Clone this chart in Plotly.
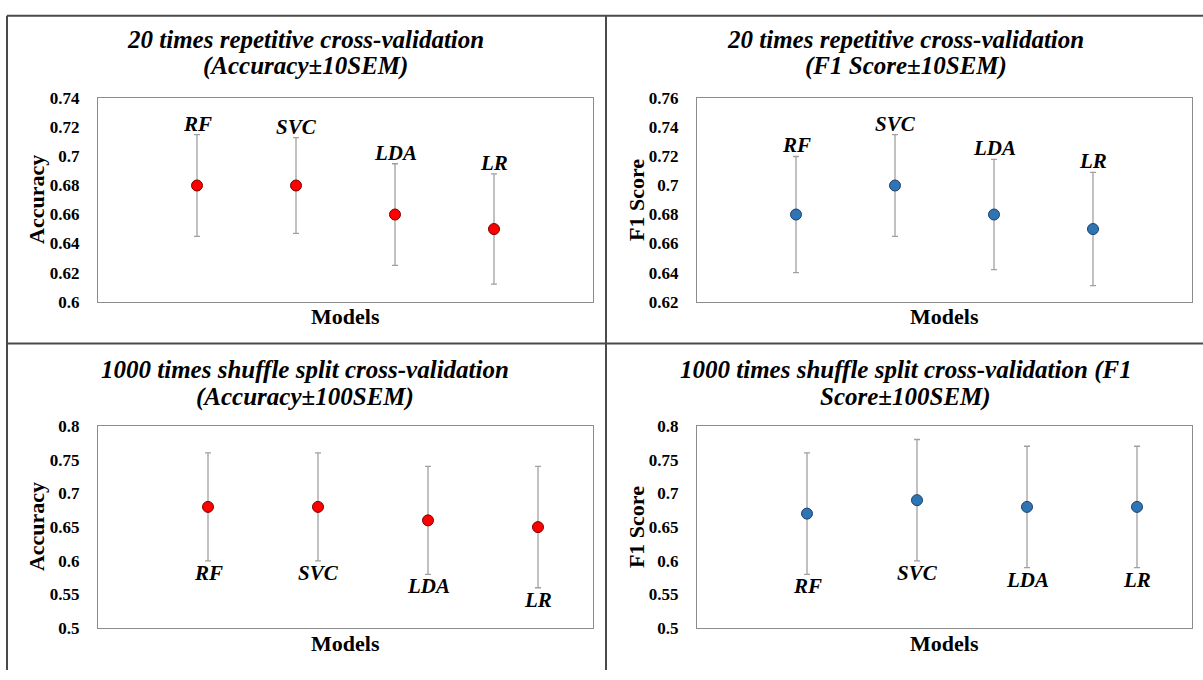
import plotly.graph_objects as go

W, H = 1203, 680
FONT = "'Liberation Serif', 'Times New Roman', Times, serif"

models = ["RF", "SVC", "LDA", "LR"]

acc_rep = [0.68, 0.68, 0.66, 0.65]
acc_rep_err = [0.035, 0.033, 0.035, 0.038]
f1_rep = [0.68, 0.70, 0.68, 0.67]
f1_rep_err = [0.040, 0.035, 0.038, 0.039]
acc_shuf = [0.68, 0.68, 0.66, 0.65]
acc_shuf_err = [0.08, 0.08, 0.08, 0.09]
f1_shuf = [0.67, 0.69, 0.68, 0.68]
f1_shuf_err = [0.09, 0.09, 0.09, 0.09]

ticks_acc_rep = [0.6, 0.62, 0.64, 0.66, 0.68, 0.7, 0.72, 0.74]
ticks_f1_rep = [0.62, 0.64, 0.66, 0.68, 0.7, 0.72, 0.74, 0.76]
ticks_shuf = [0.5, 0.55, 0.6, 0.65, 0.7, 0.75, 0.8]

titles = [
    ["20 times repetitive cross-validation", "(Accuracy\u00b110SEM)"],
    ["20 times repetitive cross-validation", "(F1 Score\u00b110SEM)"],
    ["1000 times shuffle split cross-validation", "(Accuracy\u00b1100SEM)"],
    ["1000 times shuffle split cross-validation (F1", "Score\u00b1100SEM)"],
]
ytitles = ["Accuracy", "F1 Score", "Accuracy", "F1 Score"]
xtitle = "Models"

RED, RED_LINE = "#FF0000", "#7A0000"
BLUE, BLUE_LINE = "#2E75B6", "#1F3F66"

panels = [
    dict(vals=acc_rep, err=acc_rep_err, ticks=ticks_acc_rep, xr=[0, 5], color=RED, lc=RED_LINE,
         px=(98, 593), py=(92, 301), label_pos="above", title_x=305, title_y=(31, 59), ytx=36, xty=316),
    dict(vals=f1_rep, err=f1_rep_err, ticks=ticks_f1_rep, xr=[0, 5], color=BLUE, lc=BLUE_LINE,
         px=(697, 1192), py=(92, 301), label_pos="above", title_x=906, title_y=(31, 59), ytx=636, xty=316),
    dict(vals=acc_shuf, err=acc_shuf_err, ticks=ticks_shuf, xr=[0, 4.5], color=RED, lc=RED_LINE,
         px=(98, 593), py=(429, 637), label_pos="below", title_x=305, title_y=(371, 399), ytx=36, xty=653),
    dict(vals=f1_shuf, err=f1_shuf_err, ticks=ticks_shuf, xr=[0, 4.5], color=BLUE, lc=BLUE_LINE,
         px=(697, 1192), py=(429, 637), label_pos="below", title_x=906, title_y=(371, 399), ytx=636, xty=653),
]

def fx(px):
    return px / W

def fy(py):
    return 1 - py / H

fig = go.Figure()
annotations = []
layout = {}

for i, p in enumerate(panels):
    n = "" if i == 0 else str(i + 1)
    xs = list(range(1, len(models) + 1))
    fig.add_trace(go.Scatter(
        x=xs, y=p["vals"], mode="markers",
        xaxis="x" + n, yaxis="y" + n,
        marker=dict(size=11, color=p["color"], line=dict(color=p["lc"], width=1)),
        error_y=dict(type="data", array=p["err"], visible=True, color="#A0A0A0", thickness=1.3, width=3),
        showlegend=False, hoverinfo="skip",
    ))
    layout["xaxis" + n] = dict(
        domain=[fx(p["px"][0]), fx(p["px"][1])], range=p["xr"], anchor="y" + n,
        showticklabels=False, ticks="", showgrid=False, zeroline=False,
        showline=True, linecolor="#8C8C8C", linewidth=1.2, mirror=True,
    )
    layout["yaxis" + n] = dict(
        domain=[fy(p["py"][1]), fy(p["py"][0])], range=[p["ticks"][0], p["ticks"][-1]], anchor="x" + n,
        tickvals=p["ticks"], ticktext=[f"<b>{t:g}</b>" for t in p["ticks"]], ticks="",
        tickfont=dict(family=FONT, size=17, color="black"),
        ticklabelstandoff=14,
        showgrid=False, zeroline=False,
        showline=True, linecolor="#8C8C8C", linewidth=1.2, mirror=True,
    )
    # data labels
    for j, m in enumerate(models):
        if p["label_pos"] == "above":
            yv = p["vals"][j] + p["err"][j]
            ys = 11
        else:
            yv = p["vals"][j] - p["err"][j]
            ys = -12
        annotations.append(dict(
            x=xs[j], y=yv, xref="x" + n, yref="y" + n, text=f"<b><i>{m}</i></b>",
            showarrow=False, yanchor="middle", xanchor="center", yshift=ys,
            font=dict(family=FONT, size=21, color="black"),
        ))
    # title lines
    for line, ty in zip(titles[i], p["title_y"]):
        annotations.append(dict(
            x=fx(p["title_x"]), y=fy(ty), xref="paper", yref="paper", text=f"<b><i>{line}</i></b>",
            showarrow=False, xanchor="center", yanchor="middle",
            font=dict(family=FONT, size=25, color="black"),
        ))
    # y-axis title
    annotations.append(dict(
        x=fx(p["ytx"]), y=fy((p["py"][0] + p["py"][1]) / 2), xref="paper", yref="paper",
        text=f"<b>{ytitles[i]}</b>", textangle=-90, showarrow=False,
        xanchor="center", yanchor="middle", font=dict(family=FONT, size=22, color="black"),
    ))
    # x-axis title
    annotations.append(dict(
        x=fx((p["px"][0] + p["px"][1]) / 2), y=fy(p["xty"]), xref="paper", yref="paper",
        text=f"<b>{xtitle}</b>", showarrow=False,
        xanchor="center", yanchor="middle", font=dict(family=FONT, size=22, color="black"),
    ))

border = dict(color="#4A4A4A", width=2)
shapes = [
    dict(type="line", xref="paper", yref="paper", x0=fx(7), x1=fx(7), y0=0, y1=fy(7), line=border),
    dict(type="line", xref="paper", yref="paper", x0=fx(7), x1=1, y0=fy(7), y1=fy(7), line=border),
    dict(type="line", xref="paper", yref="paper", x0=fx(606), x1=fx(606), y0=0, y1=fy(7), line=border),
    dict(type="line", xref="paper", yref="paper", x0=fx(7), x1=1, y0=fy(344), y1=fy(344), line=border),
]

fig.update_layout(
    width=W, height=H, margin=dict(l=0, r=0, t=0, b=0),
    paper_bgcolor="white", plot_bgcolor="white",
    annotations=annotations, shapes=shapes,
    **layout,
)

fig.write_html("out.html", config={"displayModeBar": False})
